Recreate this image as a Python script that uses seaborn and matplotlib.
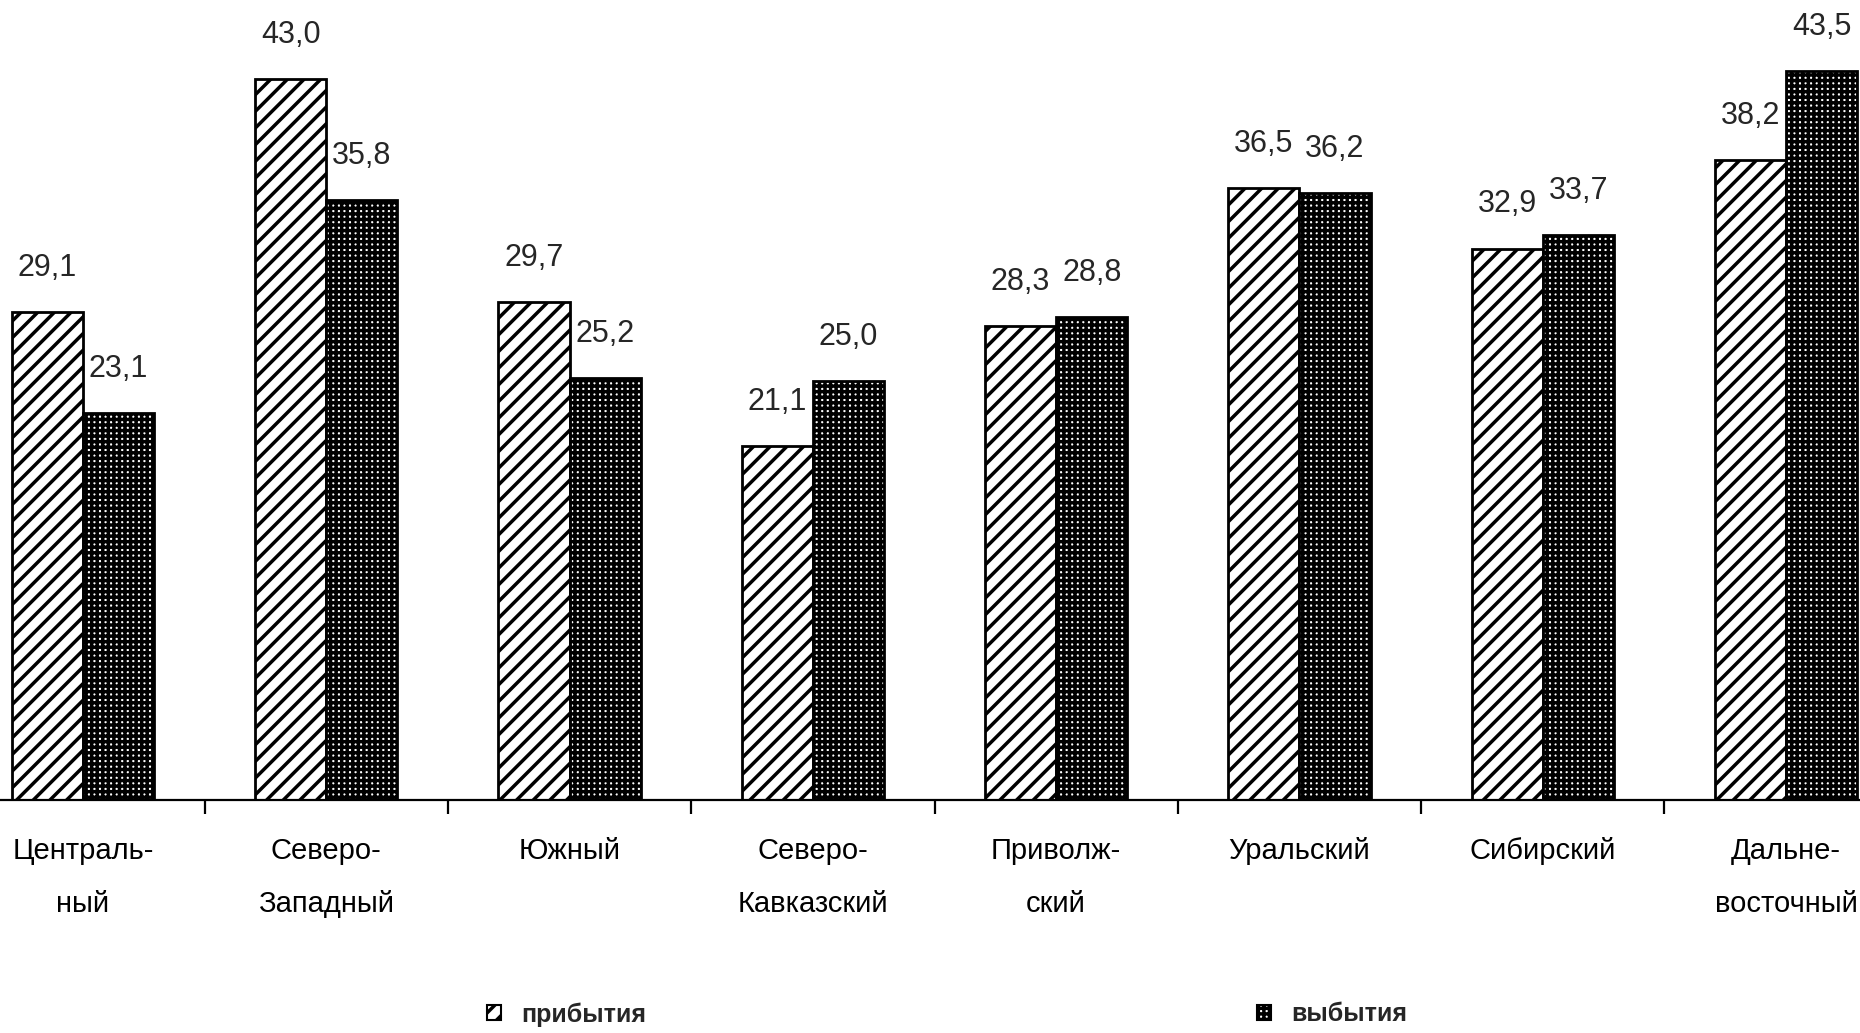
import numpy as np
import matplotlib
matplotlib.use('Agg')
import matplotlib.pyplot as plt
from matplotlib.patches import Patch
import pandas as pd
import seaborn as sns

# data
regions = ['Централь-\nный', 'Северо-\nЗападный', 'Южный', 'Северо-\nКавказский',
           'Приволж-\nский', 'Уральский', 'Сибирский', 'Дальне-\nвосточный']
arrivals = [29.1, 43.0, 29.7, 21.1, 28.3, 36.5, 32.9, 38.2]
departures = [23.1, 35.8, 25.2, 25.0, 28.8, 36.2, 33.7, 43.5]
series = ['прибытия', 'выбытия']

sns.set_theme(style='white')
plt.rcParams['font.family'] = ['Liberation Sans', 'DejaVu Sans']
plt.rcParams['hatch.linewidth'] = 2.5

df = pd.DataFrame({
    'region': regions * 2,
    'series': [series[0]] * len(regions) + [series[1]] * len(regions),
    'value': arrivals + departures,
})

fig = plt.figure(figsize=(18.6, 10.33), dpi=100)
ax = fig.add_axes([0, 0.2256, 1, 0.7744])

sns.barplot(data=df, x='region', y='value', hue='series', hue_order=series,
            order=regions, palette=['white', 'white'], width=0.585,
            edgecolor='black', linewidth=2, legend=False, ax=ax)

hatches = ['//', '+++']
for cont, h in zip(ax.containers, hatches):
    for bar in cont:
        bar.set_hatch(h)
        bar.set_edgecolor('black')
        bar.set_facecolor('white')
    vals = [b.get_height() for b in cont]
    ax.bar_label(cont, labels=[f'{v:.1f}'.replace('.', ',') for v in vals],
                 padding=21, fontsize=22)

ax.set_xlim(-0.341, 7.304)
ax.set_ylim(0, 47.74)
ax.set_xlabel('')
ax.set_ylabel('')
ax.set_yticks([])
for s in ['left', 'right', 'top']:
    ax.spines[s].set_visible(False)
ax.spines['bottom'].set_color('black')
ax.spines['bottom'].set_linewidth(1.6)

ax.set_xticks(np.arange(len(regions)))
ax.set_xticklabels(regions, fontsize=21, linespacing=2.1)
ax.tick_params(axis='x', which='major', length=0, pad=27, colors='black')
ax.set_xticks(np.arange(len(regions) - 1) + 0.5, minor=True)
ax.tick_params(axis='x', which='minor', length=10, width=1.6, color='black',
               direction='out', bottom=True)

for lab, h, xpos in zip(series, hatches, [0.262, 0.676]):
    handle = Patch(facecolor='white', edgecolor='black', hatch=h, linewidth=1.5)
    fig.legend([handle], [lab], loc='center left', bbox_to_anchor=(xpos, 0.018),
               frameon=False, handlelength=0.55, handleheight=0.55,
               handletextpad=0.8, borderpad=0, borderaxespad=0,
               prop={'size': 18, 'weight': 'bold'})

fig.savefig('out.png', dpi=100)
